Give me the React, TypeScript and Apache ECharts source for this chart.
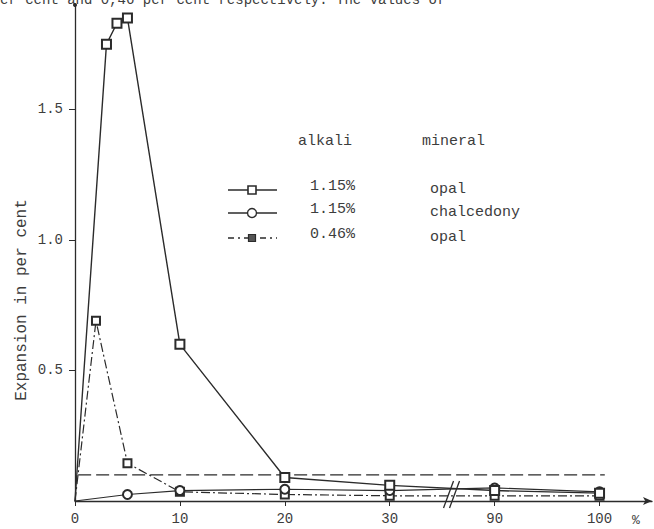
import React, { useEffect, useRef } from "react";
import * as echarts from "echarts";

// ---- data (x in per cent of mineral, y = expansion in per cent) ----
const xTickValues = [0, 10, 20, 30, 90, 100];
const yTickValues = [0.5, 1.0, 1.5];

const opal115X = [0, 3, 4, 5, 10, 20, 30, 90, 100];
const opal115Y = [0, 1.75, 1.83, 1.85, 0.6, 0.09, 0.06, 0.04, 0.03];

const chalc115X = [0, 5, 10, 20, 30, 90, 100];
const chalc115Y = [0, 0.025, 0.04, 0.045, 0.04, 0.05, 0.035];

const opal046X = [0, 2, 5, 10, 20, 30, 90, 100];
const opal046Y = [0, 0.69, 0.145, 0.035, 0.025, 0.02, 0.02, 0.02];

const refLevel = 0.1;
const refSpanX = [0, 100];

const legendHeaders = ["alkali", "mineral"];
const legendAlkali = ["1.15%", "1.15%", "0.46%"];
const legendMineral = ["opal", "chalcedony", "opal"];

const topText = "er cent and 0,46 per cent respectively. The values of";
const yTitle = "Expansion in per cent";

// broken axis: 0..30 linear, then 90..100
const pos = (x: number) => (x <= 30 ? x / 10 : 4 + (x - 90) / 10);

const W = 654;
const H = 529;
const GRID = { left: 75, right: 2, top: 5, bottom: 28 };
const X_MAX = 5.5;
const Y_MAX = 1.9;
const INK = "#2b2b2b";
const TXT = "#3d3d3d";
const MONO = '"Liberation Mono", "DejaVu Sans Mono", monospace';

const build = (xs: number[], ys: number[]) =>
  xs.map((x, i) => (x === 0 ? { value: [pos(x), ys[i]], symbol: "none" } : { value: [pos(x), ys[i]] }));

export default function App() {
  const ref = useRef<HTMLDivElement>(null);
  useEffect(() => {
    document.body.style.margin = "0";
    const chart = echarts.init(ref.current!, undefined, { renderer: "svg" });
    const gw = W - GRID.left - GRID.right;
    const gh = H - GRID.top - GRID.bottom;
    const px = (v: number) => GRID.left + (v / X_MAX) * gw;
    const py = (v: number) => GRID.top + gh - (v / Y_MAX) * gh;
    const breakX = px(3.57);
    const axisY = py(0);

    const lx0 = 228, lx1 = 277, lxm = 252;
    const rows = [190, 213, 238];

    chart.setOption({
      animation: false,
      grid: { ...GRID },
      xAxis: {
        type: "value",
        min: 0,
        max: X_MAX,
        interval: 1,
        splitLine: { show: false },
        axisLine: { lineStyle: { color: INK, width: 1.3 }, symbol: ["none", "arrow"], symbolSize: [6, 9] },
        axisTick: { show: true, length: 5, customValues: xTickValues.map(pos), lineStyle: { color: INK } },
        axisLabel: {
          customValues: xTickValues.map(pos),
          formatter: (v: number) => {
            const i = xTickValues.findIndex((t) => Math.abs(pos(t) - v) < 1e-6);
            return i >= 0 ? String(xTickValues[i]) : "";
          },
          color: TXT,
          fontFamily: MONO,
          fontSize: 14,
          margin: 11,
        },
      },
      yAxis: {
        type: "value",
        min: 0,
        max: Y_MAX,
        interval: 0.5,
        splitLine: { show: false },
        axisLine: { show: true, lineStyle: { color: INK, width: 1.3 }, symbol: ["none", "circle"], symbolSize: [4, 4] },
        axisTick: { show: true, length: 6, customValues: yTickValues, lineStyle: { color: INK } },
        axisLabel: {
          customValues: yTickValues,
          formatter: (v: number) => v.toFixed(1),
          color: TXT,
          fontFamily: MONO,
          fontSize: 14,
          margin: 12,
        },
      },
      series: [
        {
          name: "1.15% opal",
          type: "line",
          data: build(opal115X, opal115Y),
          symbol: "emptyRect",
          symbolSize: 9,
          itemStyle: { color: INK, borderWidth: 1.5 },
          lineStyle: { color: INK, width: 1.4 },
          z: 5,
        },
        {
          name: "1.15% chalcedony",
          type: "line",
          data: build(chalc115X, chalc115Y),
          symbol: "emptyCircle",
          symbolSize: 9,
          itemStyle: { color: INK, borderWidth: 1.4 },
          lineStyle: { color: INK, width: 1.2 },
          z: 4,
        },
        {
          name: "0.46% opal",
          type: "line",
          data: build(opal046X, opal046Y),
          symbol: "emptyRect",
          symbolSize: 8,
          itemStyle: { color: INK, borderWidth: 2 },
          lineStyle: { color: INK, width: 1.2, type: [9, 3, 2, 3] },
          z: 3,
        },
        {
          name: "reference",
          type: "line",
          data: refSpanX.map((x) => [pos(x) + (x === 0 ? 0.03 : 0.05), refLevel]),
          symbol: "none",
          lineStyle: { color: INK, width: 1.2, type: [13, 5] },
          silent: true,
          z: 2,
        },
      ],
      graphic: [
        { type: "text", x: 0, y: -7, style: { text: topText, fontFamily: MONO, fontSize: 14, fill: TXT, verticalAlign: "top" } },
        {
          type: "text",
          x: 22,
          y: 300,
          rotation: Math.PI / 2,
          style: { text: yTitle, fontFamily: MONO, fontSize: 16, fill: TXT, align: "center", verticalAlign: "middle" },
        },
        { type: "text", x: 636, y: 520, style: { text: "%", fontFamily: MONO, fontSize: 13, fill: TXT, align: "center", verticalAlign: "middle" } },
        // axis break marks
        { type: "line", shape: { x1: breakX - 6, y1: axisY + 7, x2: breakX + 4, y2: axisY - 20 }, style: { stroke: INK, lineWidth: 1.3 } },
        { type: "line", shape: { x1: breakX, y1: axisY + 7, x2: breakX + 10, y2: axisY - 20 }, style: { stroke: INK, lineWidth: 1.3 } },
        // legend headers
        { type: "text", x: 298, y: 141, style: { text: legendHeaders[0], fontFamily: MONO, fontSize: 15, fill: TXT, verticalAlign: "middle" } },
        { type: "text", x: 422, y: 141, style: { text: legendHeaders[1], fontFamily: MONO, fontSize: 15, fill: TXT, verticalAlign: "middle" } },
        // legend rows
        ...rows.flatMap((ry, i) => [
          { type: "text", x: 310, y: ry - 4, style: { text: legendAlkali[i], fontFamily: MONO, fontSize: 15, fill: TXT, verticalAlign: "middle" } },
          { type: "text", x: 430, y: ry - 1, style: { text: legendMineral[i], fontFamily: MONO, fontSize: 15, fill: TXT, verticalAlign: "middle" } },
        ]),
        { type: "line", shape: { x1: lx0, y1: rows[0], x2: lx1, y2: rows[0] }, style: { stroke: INK, lineWidth: 1.4 } },
        { type: "rect", shape: { x: lxm - 4, y: rows[0] - 4, width: 8, height: 8 }, style: { fill: "#fff", stroke: INK, lineWidth: 1.6 }, z: 10 },
        { type: "line", shape: { x1: lx0, y1: rows[1], x2: lx1, y2: rows[1] }, style: { stroke: INK, lineWidth: 1.4 } },
        { type: "circle", shape: { cx: lxm, cy: rows[1], r: 4.5 }, style: { fill: "#fff", stroke: INK, lineWidth: 1.4 }, z: 10 },
        { type: "line", shape: { x1: lx0, y1: rows[2], x2: lx1, y2: rows[2] }, style: { stroke: INK, lineWidth: 1.3, lineDash: [6, 4, 2, 4] } },
        { type: "rect", shape: { x: lxm - 3.5, y: rows[2] - 3.5, width: 7, height: 7 }, style: { fill: "#555", stroke: INK, lineWidth: 1.2 }, z: 10 },
      ],
    });
    return () => chart.dispose();
  }, []);
  return <div ref={ref} style={{ position: "absolute", left: 0, top: 0, width: W, height: H }} />;
}
